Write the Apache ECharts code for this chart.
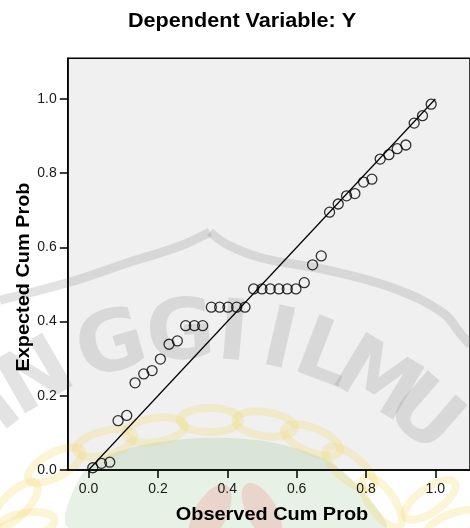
<!DOCTYPE html>
<html><head><meta charset="utf-8">
<script src="https://cdn.jsdelivr.net/npm/echarts@6/dist/echarts.min.js"></script>
<style>html,body{margin:0;padding:0;background:#fff}#c{width:470px;height:528px}</style>
</head><body><div id="c"></div>
<script>
const titleText = 'Dependent Variable: Y';
const xAxisName = 'Observed Cum Prob';
const yAxisName = 'Expected Cum Prob';
const tickValues = [0, 0.2, 0.4, 0.6, 0.8, 1.0];
const observedCumProb = [0.012,0.037,0.061,0.085,0.110,0.134,0.159,0.183,0.207,0.232,0.256,0.280,0.305,0.329,0.354,0.378,0.402,0.427,0.451,0.476,0.500,0.524,0.549,0.573,0.598,0.622,0.646,0.671,0.695,0.720,0.744,0.768,0.793,0.817,0.841,0.866,0.890,0.915,0.939,0.963,0.988];
const expectedCumProb = [0.006,0.018,0.021,0.133,0.147,0.235,0.259,0.268,0.299,0.339,0.348,0.389,0.389,0.389,0.439,0.439,0.439,0.439,0.439,0.488,0.488,0.488,0.488,0.488,0.488,0.505,0.553,0.577,0.695,0.717,0.739,0.745,0.776,0.784,0.838,0.850,0.866,0.876,0.935,0.955,0.986];
const referenceLine = [[0, 0], [1, 1]];
const watermarkWord = 'INGGIILMU';

function watermark() {
  const els = [];
  // shield outline
  els.push({type:'polyline', z:1, silent:true, shape:{points:[[0,300],[70,282],[130,262],[180,246],[210,232]], smooth:0.4},
    style:{stroke:'rgba(140,140,140,0.25)', lineWidth:9, fill:null}});
  els.push({type:'polyline', z:1, silent:true, shape:{points:[[210,232],[228,245],[262,258],[327,270],[393,288],[443,313],[460,333],[470,345]], smooth:0.4},
    style:{stroke:'rgba(140,140,140,0.25)', lineWidth:9, fill:null}});
  // green area
  els.push({type:'polygon', z:1, silent:true, shape:{points:[[70,528],[85,470],[130,448],[200,438],[270,442],[330,462],[370,500],[385,528]], smooth:0.3},
    style:{fill:'rgba(120,170,100,0.17)'}});
  // red flames
  els.push({type:'ellipse', z:1, silent:true, x:210, y:515, rotation:-0.5, shape:{cx:0, cy:0, rx:16, ry:34}, style:{fill:'rgba(235,100,100,0.2)'}});
  els.push({type:'ellipse', z:1, silent:true, x:262, y:512, rotation:0.5, shape:{cx:0, cy:0, rx:15, ry:32}, style:{fill:'rgba(235,100,100,0.2)'}});
  // chain links
  const links = [[15,505,-45],[55,465,-28],[105,443,-15],[155,430,-8],[210,420,0],[265,424,8],[312,440,22],[350,468,40],[382,502,55],[430,500,-35],[455,525,-20],[25,525,-10]];
  links.forEach(l => els.push({type:'ellipse', z:1, silent:true, x:l[0], y:l[1], rotation:-l[2]*Math.PI/180,
    shape:{cx:0, cy:0, rx:30, ry:12}, style:{fill:null, stroke:'rgba(240,215,90,0.25)', lineWidth:8}}));
  // letters along an arc
  const angles = [-38,-30,-16,-4,5,13,21,31,41];
  const cx = 204, cy = 668, R = 332;
  watermarkWord.split('').forEach((ch, i) => {
    const a = angles[i] * Math.PI / 180;
    els.push({type:'text', z:1, silent:true, x: cx + R*Math.sin(a), y: cy - R*Math.cos(a), rotation: -a,
      style:{text:ch, x:0, y:0, align:'center', verticalAlign:'middle', font:'bold 84px "DejaVu Sans"', fill:'rgba(150,150,150,0.27)'}});
  });
  return els;
}

const labelFont = {fontFamily:'"Liberation Sans", Arial, sans-serif', fontSize:14, color:'#1a1a1a'};
const chart = echarts.init(document.getElementById('c'), null, {renderer:'canvas'});
chart.setOption({
  animation:false,
  grid:{left:67.8, top:58.2, width:429.2, height:411.8, show:true, backgroundColor:'#f0f0f0', borderColor:'#000', borderWidth:1.5, z:0},
  xAxis:{type:'value', min:-0.06, max:1.1, z:5,
    axisLine:{show:true, onZero:false, lineStyle:{color:'#000', width:1.5}},
    axisTick:{show:true, customValues:tickValues, length:8, lineStyle:{color:'#000', width:1.5}},
    axisLabel:Object.assign({customValues:tickValues, margin:12, formatter:v=>v.toFixed(1)}, labelFont),
    splitLine:{show:false}},
  yAxis:{type:'value', min:0, max:1.11, z:5,
    axisLine:{show:true, onZero:false, lineStyle:{color:'#000', width:1.5}},
    axisTick:{show:true, customValues:tickValues, length:8, lineStyle:{color:'#000', width:1.5}},
    axisLabel:Object.assign({customValues:tickValues, margin:11, formatter:v=>v.toFixed(1)}, labelFont),
    splitLine:{show:false}},
  graphic:watermark().concat([
    {type:'text', z:10, x:242, y:21, scaleX:1.08, style:{text:titleText, x:0, y:0, align:'center', verticalAlign:'middle', font:'bold 20px "Liberation Sans", Arial, sans-serif', fill:'#000'}},
    {type:'text', z:10, x:272, y:515, scaleX:1.07, style:{text:xAxisName, x:0, y:0, align:'center', verticalAlign:'middle', font:'bold 18.6px "Liberation Sans", Arial, sans-serif', fill:'#000'}},
    {type:'text', z:10, x:24, y:277, rotation:Math.PI/2, scaleX:1.07, style:{text:yAxisName, x:0, y:0, align:'center', verticalAlign:'middle', font:'bold 18.6px "Liberation Sans", Arial, sans-serif', fill:'#000'}}
  ]),
  series:[
    {type:'line', data:referenceLine, symbol:'none', silent:true, z:3, lineStyle:{color:'#000', width:1.2}},
    {type:'scatter', data:observedCumProb.map((x,i)=>[x, expectedCumProb[i]]), symbol:'circle', symbolSize:10, silent:true, z:4,
      itemStyle:{color:'rgba(0,0,0,0)', borderColor:'#000', borderWidth:1.3}}
  ]
});
</script></body></html>
